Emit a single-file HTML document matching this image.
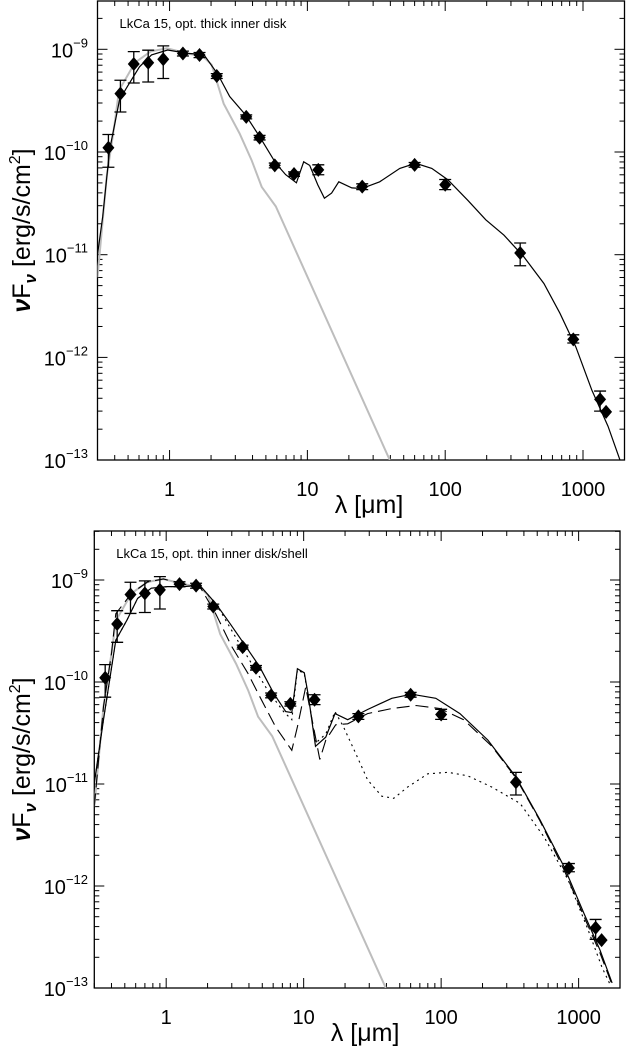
<!DOCTYPE html>
<html><head><meta charset="utf-8">
<style>
html,body{margin:0;padding:0;background:#fff;}
svg{display:block;font-family:"Liberation Sans","DejaVu Sans",sans-serif;}
</style></head>
<body>
<svg id="fig" width="627" height="1049" viewBox="0 0 627 1049" xmlns="http://www.w3.org/2000/svg"></svg>
<script>
// ---- shared observed data ----
const obsLam = [0.36,0.44,0.55,0.70,0.90,1.25,1.65,2.2,3.6,4.5,5.8,8.0,12,25,60,100,350,850,1330,1470];
const obsFlux = [1.1e-10,3.7e-10,7.2e-10,7.4e-10,8.0e-10,9.1e-10,8.8e-10,5.5e-10,2.2e-10,1.38e-10,7.4e-11,6.1e-11,6.7e-11,4.6e-11,7.5e-11,4.8e-11,1.04e-11,1.5e-12,3.9e-13,2.95e-13];
const obsHi = [1.48e-10,5.0e-10,9.5e-10,9.8e-10,1.08e-9,9.6e-10,9.3e-10,5.8e-10,2.3e-10,1.45e-10,7.8e-11,6.4e-11,7.5e-11,4.9e-11,7.9e-11,5.4e-11,1.3e-11,1.66e-12,4.7e-13,null];
const obsLo = [7.1e-11,2.45e-10,4.7e-10,4.8e-10,5.2e-10,8.6e-10,8.3e-10,5.2e-10,2.1e-10,1.31e-10,7.0e-11,5.8e-11,6.0e-11,4.3e-11,7.1e-11,4.3e-11,7.8e-12,1.38e-12,3.0e-13,null];

// photosphere (grey)
const photLam = [0.30,0.35,0.40,0.43,0.56,0.73,0.955,1.34,1.75,2.02,2.47,3.22,3.94,4.66,5.9,39.6];
const photLog = [-11.22,-10.24,-9.72,-9.40,-9.13,-9.02,-8.99,-9.04,-9.07,-9.15,-9.53,-9.82,-10.08,-10.34,-10.53,-13.0];

// top panel model (solid)
const topLam = [0.30,0.327,0.367,0.434,0.495,0.605,0.74,0.967,1.35,1.77,2.23,2.73,3.56,4.5,5.9,6.95,8.33,9.4,10.4,11.9,13.3,15.0,16.9,21,24.8,33.5,46.8,61,80,104.5,146,197,267,372,520,680,888,1161,1517,1854];
const topLog = [-11.0,-10.63,-9.98,-9.49,-9.36,-9.17,-9.055,-9.007,-9.04,-9.05,-9.24,-9.46,-9.64,-9.85,-10.11,-10.22,-10.30,-10.095,-10.13,-10.32,-10.45,-10.40,-10.29,-10.35,-10.355,-10.29,-10.16,-10.11,-10.16,-10.27,-10.47,-10.66,-10.81,-11.02,-11.28,-11.57,-11.90,-12.32,-12.67,-13.0];

// bottom panel: solid total
const botSolidLam = [0.30,0.35,0.43,0.52,0.62,0.78,1.02,1.34,1.75,2.29,2.89,3.66,4.78,6.04,7.4,8.2,9.0,10.1,10.8,12.2,14.5,16.9,20.9,29.2,43.8,61,91.5,137,219,350,523,783,1095,1433,1753];
const botSolidLog = [-10.99,-10.37,-9.59,-9.39,-9.18,-9.08,-9.065,-9.065,-9.05,-9.23,-9.42,-9.62,-9.85,-10.11,-10.29,-10.30,-9.87,-9.91,-10.13,-10.63,-10.54,-10.31,-10.37,-10.27,-10.16,-10.12,-10.16,-10.31,-10.57,-10.93,-11.35,-11.81,-12.27,-12.63,-12.95];
// bottom panel: long-dashed
const botDashLam = [0.30,0.35,0.40,0.43,0.56,0.73,0.955,1.34,1.75,2.29,2.99,3.91,4.78,6.25,8.2,9.0,10.35,11.8,13.1,14.5,17.1,20.9,29.2,43.8,65.5,98,146,234,350,523,783,1095,1433,1753];
const botDashLog = [-11.22,-10.24,-9.72,-9.33,-9.13,-9.02,-8.99,-9.04,-9.06,-9.33,-9.65,-9.91,-10.14,-10.44,-10.67,-10.44,-10.05,-10.44,-10.76,-10.57,-10.42,-10.41,-10.31,-10.26,-10.23,-10.26,-10.37,-10.63,-10.94,-11.36,-11.84,-12.30,-12.66,-12.97];
// bottom panel: dotted
const botDotLam = [0.30,0.35,0.43,0.52,0.62,0.78,1.02,1.34,1.75,2.37,3.2,4.18,5.47,7.15,8.2,9.0,10.1,11.1,12.2,14.5,16.9,19.5,23.9,29.2,37,45.2,57,80,112,156,234,375,561,838,1172,1483,1700];
const botDotLog = [-10.99,-10.37,-9.59,-9.39,-9.18,-9.08,-9.065,-9.065,-9.05,-9.26,-9.56,-9.82,-10.08,-10.29,-10.37,-9.88,-9.92,-10.24,-10.60,-10.51,-10.29,-10.44,-10.70,-10.96,-11.12,-11.14,-11.03,-10.90,-10.885,-10.92,-11.03,-11.19,-11.52,-11.94,-12.43,-12.80,-12.97];

const xTickVals = [1,10,100,1000];
const xTickLabels = ["1","10","100","1000"];
const yTickExps = [-9,-10,-11,-12,-13];

const NS = "http://www.w3.org/2000/svg";
const svg = document.getElementById('fig');
function mk(tag, attrs, parent){
  const e = document.createElementNS(NS, tag);
  for (const k in attrs) e.setAttribute(k, attrs[k]);
  (parent||svg).appendChild(e);
  return e;
}

function panel(cfg){
  const g = mk('g', {});
  
  
  const L=cfg.left, R=cfg.right, T=cfg.top, B=cfg.bottom;
  const xmin=Math.log10(0.3), xmax=Math.log10(2000);
  const X = v => L + (Math.log10(v)-xmin)/(xmax-xmin)*(R-L);
  const YL = lg => cfg.y9 + (-9 - lg)*cfg.dec;
  const Y = v => YL(Math.log10(v));

  const clipId = 'clip'+cfg.id;
  const defs = mk('defs', {}, g);
  const cp = mk('clipPath', {id: clipId}, defs);
  mk('rect', {x:L, y:T, width:R-L, height:B-T}, cp);

  // ticks
  const ticks = mk('g', {stroke:'#000','stroke-width':1}, g);
  
  
  for (let d=-1; d<=3; d++){
    for (let m=1; m<=9; m++){
      const v = m*Math.pow(10,d);
      if (v<0.3 || v>2000) continue;
      const x = X(v), len = m===1?10:5;
      mk('line',{x1:x,y1:B,x2:x,y2:B-len},ticks);
      mk('line',{x1:x,y1:T,x2:x,y2:T+len},ticks);
    }
  }
  for (let e=-14; e<=-8; e++){
    for (let m=1; m<=9; m++){
      const lg = e + Math.log10(m);
      const y = YL(lg);
      if (y<T || y>B) continue;
      const len = m===1?10:5;
      mk('line',{x1:L,y1:y,x2:L+len,y2:y},ticks);
      mk('line',{x1:R,y1:y,x2:R-len,y2:y},ticks);
    }
  }
  // frame
  const fr = mk('rect',{x:L,y:T,width:R-L,height:B-T,fill:'none',stroke:'#000','stroke-width':1.3},g);
  
  

  // x tick labels
  xTickVals.forEach((v,i)=>{
    const t = mk('text',{x:X(v),y:B+36,'font-size':20,'text-anchor':'middle',fill:'#000'},g);
    t.textContent = xTickLabels[i];
    
    
  });
  // y tick labels
  yTickExps.forEach(e=>{
    const y = YL(e);
    const t = mk('text',{x:88,y:y+8,'font-size':20,'text-anchor':'end',fill:'#000'},g);
    
    
    const a = mk('tspan',{},t); a.textContent='10';
    const b = mk('tspan',{dy:-10,'font-size':13},t); b.textContent='\u2212'+(-e);
  });
  // axis titles
  const xt = mk('text',{x:(L+R)/2+8,y:B+53,'font-size':25,'text-anchor':'middle',fill:'#000'},g);
  
  
  xt.textContent = 'λ [μm]';
  const cy = (T+B)/2;
  const yt = mk('text',{x:0,y:0,'font-size':25,'text-anchor':'middle',fill:'#000',transform:`translate(30,${cy}) rotate(-90)`},g);
  
  
  const s1 = mk('tspan',{'font-style':'italic','font-weight':'bold'},yt); s1.textContent='ν';
  const s2 = mk('tspan',{},yt); s2.textContent='F';
  const s3 = mk('tspan',{dy:6,'font-size':17,'font-style':'italic','font-weight':'bold'},yt); s3.textContent='ν';
  const s4 = mk('tspan',{dy:-6},yt); s4.textContent=' [erg/s/cm';
  const s5 = mk('tspan',{dy:-10,'font-size':16},yt); s5.textContent='2';
  const s6 = mk('tspan',{dy:10},yt); s6.textContent=']';

  // annotation
  const an = mk('text',{x:L+22,y:T+27,'font-size':13,fill:'#000'},g);
  
  
  an.textContent = cfg.title;

  const plot = mk('g',{'clip-path':`url(#${clipId})`},g);
  function line(lams, logs, style, name){
    const d = lams.map((l,i)=>(i?'L':'M')+X(l).toFixed(1)+' '+YL(logs[i]).toFixed(1)).join(' ');
    const p = mk('path',Object.assign({d:d,fill:'none'},style),plot);
    
    
  }
  line(photLam, photLog, {stroke:'#bdbdbd','stroke-width':2}, 'photosphere-line');
  cfg.models.forEach(m=>line(m.lam,m.log,m.style,m.name));

  // data
  const dg = mk('g',{},g);
  
  
  obsLam.forEach((l,i)=>{
    const x = X(l), y = Y(obsFlux[i]);
    if (obsHi[i]!==null){
      const yh = Y(obsHi[i]), yl = Y(obsLo[i]);
      const eb = mk('path',{d:`M${x} ${yh} L${x} ${yl} M${x-6} ${yh} L${x+6} ${yh} M${x-6} ${yl} L${x+6} ${yl}`,stroke:'#000','stroke-width':1.3,fill:'none'},dg);
      
      
    }
    const dm = mk('path',{d:`M${x} ${y-7} L${x+6} ${y} L${x} ${y+7} L${x-6} ${y} Z`,fill:'#000'},dg);
    
    
  });
}

panel({id:1,name:'top-panel-thick-disk',left:97.5,right:624.5,top:1,bottom:460,y9:49.3,dec:102.7,
  title:'LkCa 15, opt. thick inner disk',
  models:[{lam:topLam,log:topLog,style:{stroke:'#000','stroke-width':1.2},name:'model-total-line'}]});
panel({id:2,name:'bottom-panel-thin-disk',left:94.3,right:620,top:531,bottom:988,y9:580,dec:102,
  title:'LkCa 15, opt. thin inner disk/shell',
  models:[
    {lam:botDotLam,log:botDotLog,style:{stroke:'#000','stroke-width':1.1,'stroke-dasharray':'2 4'},name:'model-dotted-line'},
    {lam:botDashLam,log:botDashLog,style:{stroke:'#000','stroke-width':1.1,'stroke-dasharray':'13 6'},name:'model-dashed-line'},
    {lam:botSolidLam,log:botSolidLog,style:{stroke:'#000','stroke-width':1.2},name:'model-total-line'}
  ]});
</script>
</body></html>
